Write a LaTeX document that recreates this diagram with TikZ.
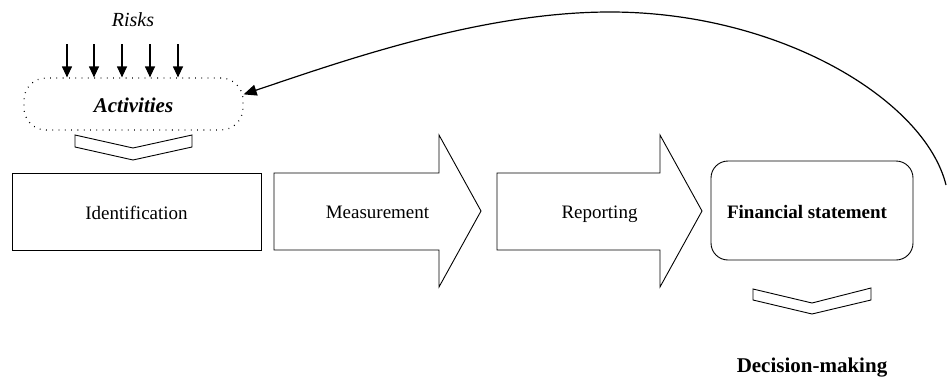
\documentclass[tikz,border=0pt]{standalone}
\usepackage{fontspec}
\setmainfont{Liberation Serif}
\usetikzlibrary{arrows.meta,calc}
\begin{document}
\begin{tikzpicture}[x=1pt,y=-1pt,
  shapeline/.style={draw=black,line width=0.9pt,line join=miter},
  risktip/.style={-{Stealth[length=11pt,width=10pt,inset=0pt]},line width=1.2pt},
  lbl/.style={inner sep=0pt,anchor=base,font=\fontsize{19}{22}\selectfont},
]
\useasboundingbox (0,0) rectangle (948,378);

% Risks
\node[lbl,font=\fontsize{20}{24}\selectfont\itshape] (risks) at (133,26) {Risks};
\foreach \x [count=\i] in {67,94,122,150,178}{
  \coordinate (r\i) at (\x,44);
}
% Activities box
\node[draw,line width=1.2pt,dash pattern=on 0.8pt off 5.5pt,rounded corners=22pt,
      minimum width=219pt,minimum height=52pt,inner sep=0pt] (act) at (133.5,104) {};
\node[lbl,font=\fontsize{21}{24}\selectfont\bfseries\itshape] (acttext) at (133.5,112) {Activities};
\foreach \i in {1,...,5}{
  \draw[risktip] (r\i) -- (r\i |- act.north);
}

% chevron under Activities
\draw[shapeline] (75,135) -- (133,148) -- (192,135) -- (192,147) -- (133,160) -- (75,147) -- cycle;

% Identification
\node[shapeline,minimum width=249pt,minimum height=77pt,inner sep=0pt] (ident) at (136.5,211.5) {};
\node[lbl] (identtext) at (136.5,219) {Identification};

% Measurement arrow
\draw[shapeline] (274,173) -- (439,173) -- (439,135) -- (481,211) -- (439,287) -- (439,250) -- (274,250) -- cycle;
\node[lbl] (meas) at (377.5,218.5) {Measurement};

% Reporting arrow
\draw[shapeline] (497,173) -- (660,173) -- (660,135) -- (702,211) -- (660,287) -- (660,250) -- (497,250) -- cycle;
\node[lbl] (rep) at (599.5,218.5) {Reporting};

% Financial statement
\node[shapeline,rounded corners=17pt,minimum width=202pt,minimum height=99pt,inner sep=0pt] (fin) at (812,210.5) {};
\node[lbl,font=\fontsize{19}{22}\selectfont\bfseries] (fintext) at (807,218.5) {Financial statement};

% chevron under Financial statement
\draw[shapeline] (753,289) -- (812,303) -- (871,288) -- (871,300) -- (812,314) -- (753,300) -- cycle;

% Decision-making
\node[lbl,font=\fontsize{21}{24}\selectfont\bfseries] (dec) at (812,372) {Decision-making};

% feedback curve
\coordinate (cstart) at (946,185);
\coordinate (ctop) at (610,12);
\draw[line width=1.2pt,-{Stealth[length=13pt,width=11pt,inset=0pt]}]
  (cstart) .. controls (925,100) and (780,12) .. (ctop)
  .. controls (480,12) and (340,62) .. (act.5);
\end{tikzpicture}
\end{document}
